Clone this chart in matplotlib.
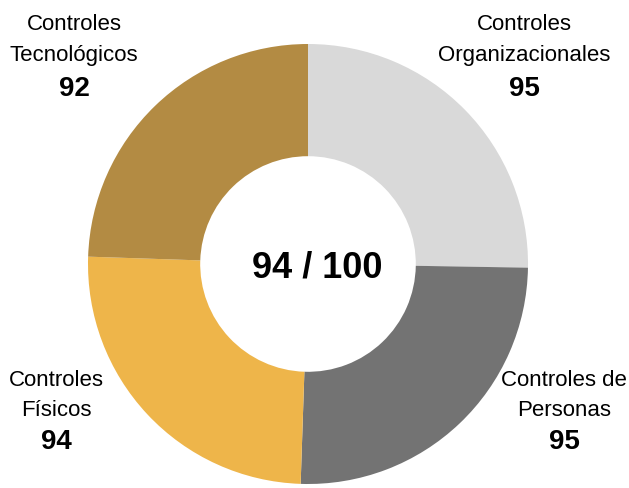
import matplotlib
matplotlib.use("Agg")
import matplotlib.pyplot as plt

categories = ["Controles\nOrganizacionales", "Controles de\nPersonas", "Controles\nFísicos", "Controles\nTecnológicos"]
values = [95, 95, 94, 92]
total_score = "94 / 100"
colors = ["#D9D9D9", "#737373", "#EEB54A", "#B38B43"]

plt.rcParams['font.family'] = ['Liberation Sans', 'DejaVu Sans']

W, H = 629, 489
fig = plt.figure(figsize=(W / 100, H / 100), dpi=100)
cx, cy, R = 308, 265, 220
ax = fig.add_axes([(cx - R) / W, (H - cy - R) / H, 2 * R / W, 2 * R / H])
ax.pie(values, colors=colors, startangle=90, counterclock=False,
       radius=1.0, wedgeprops=dict(width=0.51, linewidth=0))
ax.set_xlim(-1, 1)
ax.set_ylim(-1, 1)
ax.set_aspect('equal')
ax.axis('off')

fig.text(317 / W, 1 - 277 / H, total_score, ha='center', va='baseline', fontsize=26, fontweight='bold')

# label anchor centers (pixels) for each category: (x, y of first line)
label_pos = [(524, 24), (564, 381), (56, 381), (74, 24)]
line_gap = [32, 30, 30, 32]
for cat, val, (lx, ly), g in zip(categories, values, label_pos, line_gap):
    lines = cat.split("\n")
    for i, ln in enumerate(lines):
        fig.text(lx / W, 1 - (ly + i * g) / H, ln, ha='center', va='center', fontsize=16)
    fig.text(lx / W, 1 - (ly + len(lines) * g + 1) / H, str(val), ha='center', va='center',
             fontsize=20, fontweight='bold')

fig.savefig("out.png", dpi=100)
